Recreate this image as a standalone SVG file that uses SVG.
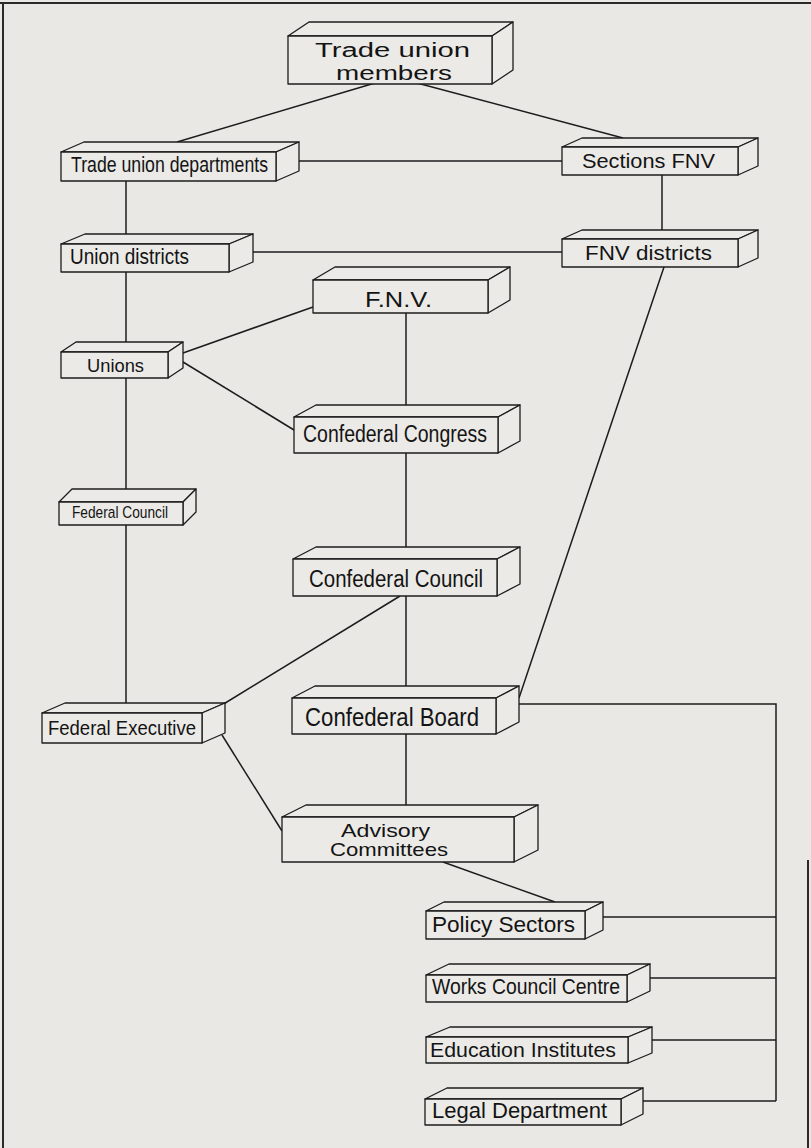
<svg xmlns="http://www.w3.org/2000/svg" width="811" height="1148" viewBox="0 0 811 1148">
<style>
.bg{fill:#e9e8e5}
.f{fill:#ebeae7;stroke:#1c1c1c;stroke-width:1.3;stroke-linejoin:round}
.c{fill:none;stroke:#1c1c1c;stroke-width:1.5}
.fr{fill:none;stroke:#2a2a2a;stroke-width:2}
text{font-family:"Liberation Sans",Arial,Helvetica,sans-serif;fill:#141414}
</style>
<rect class="bg" x="0" y="0" width="811" height="1148"/>
<g id="frame">
<path class="fr" d="M0,3 H811 M3,3 V1148 M808,860 V1148"/>
</g>
<g id="connectors">
<path class="c" d="M375,83 L177,142"/>
<path class="c" d="M417,83 L623,138"/>
<path class="c" d="M299,161 H562"/>
<path class="c" d="M126,181 V703"/>
<path class="c" d="M662,175 V230"/>
<path class="c" d="M253,252 H562"/>
<path class="c" d="M664,267 L519,698"/>
<path class="c" d="M183,353 L313,307"/>
<path class="c" d="M183,362 L294,430"/>
<path class="c" d="M406,313 V805"/>
<path class="c" d="M400,596 L222,705"/>
<path class="c" d="M222,735 L282,831"/>
<path class="c" d="M519,704 H776 V1101"/>
<path class="c" d="M603,917 H776"/>
<path class="c" d="M650,978 H776"/>
<path class="c" d="M652,1040 H776"/>
<path class="c" d="M643,1101 H776"/>
<path class="c" d="M443,862 L555,902"/>
</g>
<g id="trade-union-members">
<polygon class="f" points="288,36 309,22 513,22 492,36"/>
<polygon class="f" points="492,36 513,22 513,70 492,84"/>
<rect class="f" x="288" y="36" width="204" height="48"/>
<text x="315" y="57" font-size="20" textLength="155" lengthAdjust="spacingAndGlyphs">Trade union</text>
<text x="336" y="80" font-size="20" textLength="116" lengthAdjust="spacingAndGlyphs">members</text>
</g>
<g id="trade-union-departments">
<polygon class="f" points="61,152 84,142 299,142 276,152"/>
<polygon class="f" points="276,152 299,142 299,171 276,181"/>
<rect class="f" x="61" y="152" width="215" height="29"/>
<text x="71" y="172" font-size="22" textLength="197" lengthAdjust="spacingAndGlyphs">Trade union departments</text>
</g>
<g id="union-districts">
<polygon class="f" points="61,244 85,234 253,234 229,244"/>
<polygon class="f" points="229,244 253,234 253,262 229,272"/>
<rect class="f" x="61" y="244" width="168" height="28"/>
<text x="70" y="264" font-size="22" textLength="119" lengthAdjust="spacingAndGlyphs">Union districts</text>
</g>
<g id="sections-fnv">
<polygon class="f" points="562,147 582,138 758,138 738,147"/>
<polygon class="f" points="738,147 758,138 758,166 738,175"/>
<rect class="f" x="562" y="147" width="176" height="28"/>
<text x="582" y="168" font-size="21" textLength="133" lengthAdjust="spacingAndGlyphs">Sections FNV</text>
</g>
<g id="fnv-districts">
<polygon class="f" points="562,239 582,230 758,230 738,239"/>
<polygon class="f" points="738,239 758,230 758,258 738,267"/>
<rect class="f" x="562" y="239" width="176" height="28"/>
<text x="585" y="260" font-size="21" textLength="127" lengthAdjust="spacingAndGlyphs">FNV districts</text>
</g>
<g id="fnv">
<polygon class="f" points="313,280 335,267 510,267 488,280"/>
<polygon class="f" points="488,280 510,267 510,300 488,313"/>
<rect class="f" x="313" y="280" width="175" height="33"/>
<text x="365" y="307" font-size="22" textLength="67" lengthAdjust="spacingAndGlyphs">F.N.V.</text>
</g>
<g id="unions">
<polygon class="f" points="61,352 76,342 183,342 168,352"/>
<polygon class="f" points="168,352 183,342 183,368 168,378"/>
<rect class="f" x="61" y="352" width="107" height="26"/>
<text x="87" y="372" font-size="19" textLength="57" lengthAdjust="spacingAndGlyphs">Unions</text>
</g>
<g id="confederal-congress">
<polygon class="f" points="294,417 316,405 520,405 498,417"/>
<polygon class="f" points="498,417 520,405 520,441 498,453"/>
<rect class="f" x="294" y="417" width="204" height="36"/>
<text x="303" y="442" font-size="23" textLength="184" lengthAdjust="spacingAndGlyphs">Confederal Congress</text>
</g>
<g id="federal-council">
<polygon class="f" points="59,502 72,489 196,489 183,502"/>
<polygon class="f" points="183,502 196,489 196,512 183,525"/>
<rect class="f" x="59" y="502" width="124" height="23"/>
<text x="72" y="518" font-size="17" textLength="96" lengthAdjust="spacingAndGlyphs">Federal Council</text>
</g>
<g id="confederal-council">
<polygon class="f" points="293,559 316,547 520,547 497,559"/>
<polygon class="f" points="497,559 520,547 520,584 497,596"/>
<rect class="f" x="293" y="559" width="204" height="37"/>
<text x="309" y="587" font-size="23" textLength="174" lengthAdjust="spacingAndGlyphs">Confederal Council</text>
</g>
<g id="federal-executive">
<polygon class="f" points="42,713 65,703 225,703 202,713"/>
<polygon class="f" points="202,713 225,703 225,733 202,743"/>
<rect class="f" x="42" y="713" width="160" height="30"/>
<text x="48" y="735" font-size="20" textLength="148" lengthAdjust="spacingAndGlyphs">Federal Executive</text>
</g>
<g id="confederal-board">
<polygon class="f" points="292,698 315,686 519,686 496,698"/>
<polygon class="f" points="496,698 519,686 519,722 496,734"/>
<rect class="f" x="292" y="698" width="204" height="36"/>
<text x="305" y="726" font-size="25" textLength="174" lengthAdjust="spacingAndGlyphs">Confederal Board</text>
</g>
<g id="advisory-committees">
<polygon class="f" points="282,817 306,805 538,805 514,817"/>
<polygon class="f" points="514,817 538,805 538,850 514,862"/>
<rect class="f" x="282" y="817" width="232" height="45"/>
<text x="341" y="837" font-size="19" textLength="89" lengthAdjust="spacingAndGlyphs">Advisory</text>
<text x="330" y="856" font-size="19" textLength="118" lengthAdjust="spacingAndGlyphs">Committees</text>
</g>
<g id="policy-sectors">
<polygon class="f" points="426,911 444,902 603,902 585,911"/>
<polygon class="f" points="585,911 603,902 603,930 585,939"/>
<rect class="f" x="426" y="911" width="159" height="28"/>
<text x="432" y="932" font-size="22" textLength="143" lengthAdjust="spacingAndGlyphs">Policy Sectors</text>
</g>
<g id="works-council-centre">
<polygon class="f" points="426,975 449,964 650,964 627,975"/>
<polygon class="f" points="627,975 650,964 650,991 627,1002"/>
<rect class="f" x="426" y="975" width="201" height="27"/>
<text x="432" y="994" font-size="22" textLength="188" lengthAdjust="spacingAndGlyphs">Works Council Centre</text>
</g>
<g id="education-institutes">
<polygon class="f" points="426,1037 450,1027 652,1027 628,1037"/>
<polygon class="f" points="628,1037 652,1027 652,1053 628,1063"/>
<rect class="f" x="426" y="1037" width="202" height="26"/>
<text x="430" y="1057" font-size="21" textLength="186" lengthAdjust="spacingAndGlyphs">Education Institutes</text>
</g>
<g id="legal-department">
<polygon class="f" points="425,1099 447,1088 643,1088 621,1099"/>
<polygon class="f" points="621,1099 643,1088 643,1114 621,1125"/>
<rect class="f" x="425" y="1099" width="196" height="26"/>
<text x="432" y="1118" font-size="22" textLength="175" lengthAdjust="spacingAndGlyphs">Legal Department</text>
</g>
</svg>
